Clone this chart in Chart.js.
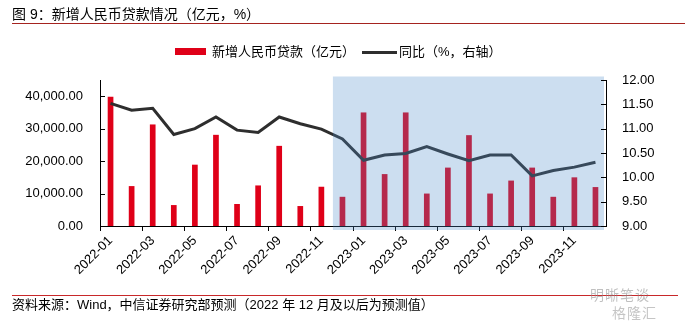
<!DOCTYPE html>
<html>
<head>
<meta charset="utf-8">
<script src="https://cdn.jsdelivr.net/npm/chart.js@4/dist/chart.umd.min.js"></script>
<style>
  html, body { margin: 0; padding: 0; background: #fff; }
  body { width: 685px; height: 324px; position: relative; overflow: hidden;
         font-family: "Liberation Sans", Arial, "Noto Sans CJK SC", sans-serif; color: #000; }
  #wrap { position: absolute; left: 0; top: 0; width: 685px; height: 324px; }
  .abs { position: absolute; white-space: nowrap; }
  #title { left: 12px; top: 5px; font-size: 14px; line-height: 18px; }
  #tline { left: 12px; top: 23px; width: 673px; height: 1px; background: #a5231f; }
  #leg1box { left: 175px; top: 48px; width: 31px; height: 7px; background: #df0018; }
  #leg1txt { left: 212px; top: 44px; font-size: 13px; line-height: 16px; }
  #leg2line { left: 362px; top: 51px; width: 35px; height: 3px; background: #2e2e2e; }
  #leg2txt { left: 399px; top: 44px; font-size: 13px; line-height: 16px; }
  #fline { left: 12px; top: 295px; width: 666px; height: 1px; background: #c8282a; }
  #foot { left: 12px; top: 297px; font-size: 13px; line-height: 16px; }
  #wm1 { left: 590px; top: 284px; font-size: 14px; color: rgba(140,140,140,0.55); letter-spacing: 1px; }
  #wm2 { left: 612px; top: 302px; font-size: 14px; color: rgba(140,140,140,0.5); letter-spacing: 1px; }
</style>
</head>
<body>
<div id="wrap"><canvas id="c" width="685" height="324"></canvas></div>
<div class="abs" id="title">图 9：新增人民币贷款情况（亿元，%）</div>
<div class="abs" id="tline"></div>
<div class="abs" id="leg1box"></div>
<div class="abs" id="leg1txt">新增人民币贷款（亿元）</div>
<div class="abs" id="leg2line"></div>
<div class="abs" id="leg2txt">同比（%，右轴）</div>
<div class="abs" id="fline"></div>
<div class="abs" id="foot">资料来源：Wind，中信证券研究部预测（2022 年 12 月及以后为预测值）</div>
<div class="abs" id="wm1">明晰笔谈</div>
<div class="abs" id="wm2">格隆汇</div>
<script>
const categories = ['2022-01','2022-02','2022-03','2022-04','2022-05','2022-06','2022-07','2022-08','2022-09','2022-10','2022-11','2022-12',
                    '2023-01','2023-02','2023-03','2023-04','2023-05','2023-06','2023-07','2023-08','2023-09','2023-10','2023-11','2023-12'];
const newLoans = [39800, 12300, 31300, 6454, 18900, 28100, 6790, 12500, 24700, 6152, 12100, 9000,
                  35000, 16000, 35000, 10000, 18000, 28000, 10000, 14000, 18000, 9000, 15000, 12000];
const loanYoY = [11.52, 11.38, 11.42, 10.88, 11.0, 11.24, 10.97, 10.92, 11.24, 11.1, 10.99, 10.79,
                 10.35, 10.46, 10.49, 10.63, 10.48, 10.34, 10.46, 10.46, 10.03, 10.14, 10.21, 10.31];
const leftTicks = [0, 10000, 20000, 30000, 40000];
const rightTicks = [9, 9.5, 10, 10.5, 11, 11.5, 12];
const forecastStart = '2022-12';

const FONT = { family: '"Liberation Sans", Arial, sans-serif', size: 13 };

const overlayPlugin = {
  id: 'overlay',
  afterDatasetsDraw(chart) {
    const ctx = chart.ctx, x = chart.scales.x, ca = chart.chartArea;
    const i = categories.indexOf(forecastStart);
    const left = (x.getPixelForValue(i - 1) + x.getPixelForValue(i)) / 2;
    ctx.save();
    ctx.fillStyle = 'rgba(80,140,203,0.29)';
    ctx.fillRect(left + 1, ca.top - 3.5, ca.right - 2 - (left + 1), ca.bottom - ca.top + 7.5);
    ctx.restore();
  },
  afterDraw(chart) {
    const ctx = chart.ctx;
    ctx.save();
    ctx.strokeStyle = '#000';
    ctx.lineWidth = 1;
    const yl = chart.scales.y, yr = chart.scales.y1;
    leftTicks.forEach(v => {
      const p = Math.round(yl.getPixelForValue(v)) + 0.5;
      ctx.beginPath(); ctx.moveTo(yl.right, p); ctx.lineTo(yl.right + 5, p); ctx.stroke();
    });
    rightTicks.forEach(v => {
      const p = Math.round(yr.getPixelForValue(v)) + 0.5;
      ctx.beginPath(); ctx.moveTo(yr.left, p); ctx.lineTo(yr.left - 5, p); ctx.stroke();
    });
    ctx.restore();
  }
};

new Chart(document.getElementById('c'), {
  data: {
    labels: categories,
    datasets: [
      { type: 'bar', label: '新增人民币贷款（亿元）', data: newLoans, yAxisID: 'y',
        backgroundColor: '#df0018', barPercentage: 0.27, categoryPercentage: 1, order: 2 },
      { type: 'line', label: '同比（%，右轴）', data: loanYoY, yAxisID: 'y1',
        borderColor: '#2e2e2e', borderWidth: 3, pointRadius: 0, tension: 0, order: 1 }
    ]
  },
  options: {
    responsive: false,
    animation: false,
    devicePixelRatio: 1,
    layout: { padding: { top: 80, left: 0, right: 0, bottom: 0 } },
    plugins: { legend: { display: false }, tooltip: { enabled: false }, title: { display: false } },
    scales: {
      x: {
        offset: true,
        grid: { display: true, drawOnChartArea: false, drawTicks: true, tickLength: 5, offset: true,
                color: c => (c.index % 2 === 0 ? '#000' : 'rgba(0,0,0,0)') },
        border: { display: true, color: '#000', width: 1 },
        ticks: { autoSkip: false, maxRotation: 45, minRotation: 45, color: '#000', font: FONT, padding: 2,
                 callback: function (v, i) { return i % 2 === 0 ? categories[i] : ''; } },
        afterFit: s => { s.height = 98; }
      },
      y: {
        position: 'left', min: 0, max: 45000,
        grid: { display: false },
        border: { display: true, color: '#000', width: 1 },
        afterBuildTicks: s => { s.ticks = leftTicks.map(v => ({ value: v })); },
        ticks: { autoSkip: false, color: '#000', font: FONT, padding: 9,
                 callback: v => Number(v).toLocaleString('en-US', { minimumFractionDigits: 2, maximumFractionDigits: 2 }) },
        afterFit: s => { s.width = 100; }
      },
      y1: {
        position: 'right', min: 9, max: 12,
        grid: { display: false },
        border: { display: true, color: '#000', width: 1 },
        afterBuildTicks: s => { s.ticks = rightTicks.map(v => ({ value: v })); },
        ticks: { autoSkip: false, color: '#000', font: FONT, padding: 8,
                 callback: v => Number(v).toFixed(2) },
        afterFit: s => { s.width = 79; }
      }
    }
  },
  plugins: [overlayPlugin]
});
</script>
</body>
</html>
